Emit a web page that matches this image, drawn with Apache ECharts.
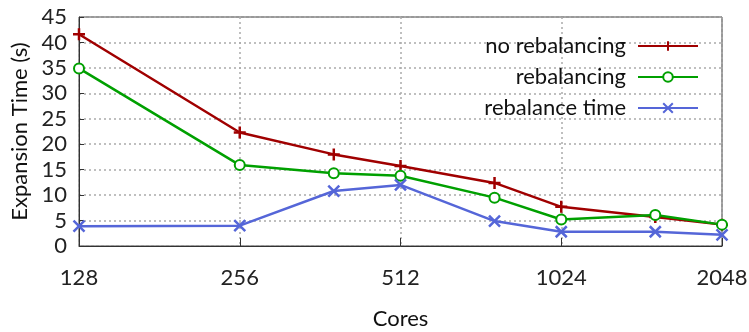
<!DOCTYPE html>
<html><head><meta charset="utf-8">
<script src="https://cdn.jsdelivr.net/npm/echarts@6/dist/echarts.min.js"></script>
<style>html,body{margin:0;padding:0;background:#fff}#c{width:749px;height:332px}</style>
</head><body><div id="c"></div>
<script>
const cores = [128, 256, 384, 512, 768, 1024, 1536, 2048];
const noRebalancing = [41.6, 22.3, 18.0, 15.7, 12.4, 7.7, 5.7, 4.2];
const rebalancing = [34.9, 15.9, 14.3, 13.8, 9.5, 5.2, 6.1, 4.2];
const rebalanceTime = [3.9, 4.0, 10.8, 12.0, 4.9, 2.8, 2.8, 2.2];
const seriesNames = ['no rebalancing', 'rebalancing', 'rebalance time'];
const yTicks = [0, 45, 5];

const font = 'Lato';
const fs = 22;
const plus = 'path://M0,6 L12,6 M6,0 L6,12';
const cross = 'path://M0,0 L12,12 M12,0 L0,12';
function pairs(v){ return cores.map((c,i)=>[c, v[i]]); }
function mk(name, data, color, symbol, size){
  return {
    name, type:'line', data: pairs(data), symbol, symbolSize: size,
    lineStyle:{color, width:2.5}, itemStyle:{color, borderColor:color, borderWidth:2.5},
    emphasis:{disabled:true}, animation:false, z: 3
  };
}
const chart = echarts.init(document.getElementById('c'), null, {renderer:'canvas'});
chart.setOption({
  animation:false,
  grid:{left:79, top:17, right:27, bottom:86, outerBoundsMode:'none', containLabel:false, show:true, borderColor:'#333', borderWidth:1, backgroundColor:'transparent'},
  legend:{
    orient:'vertical', right:45, top:30, align:'right', itemWidth:60, itemHeight:12, itemGap:9,
    textStyle:{fontFamily:font, fontSize:fs, color:'#111', padding:[0,7,0,0]},
    data: seriesNames
  },
  xAxis:{
    type:'log', logBase:2, min:128, max:2048,
    name:'Cores', nameLocation:'middle', nameGap:62,
    nameTextStyle:{fontFamily:font, fontSize:fs, color:'#111'},
    axisLine:{lineStyle:{color:'#333', width:1}},
    axisTick:{inside:true, length:8, lineStyle:{color:'#333'}},
    minorTick:{show:false},
    axisLabel:{fontFamily:font, fontSize:fs, color:'#222', margin:21, formatter:(v)=>String(Math.round(v))},
    splitLine:{show:true, lineStyle:{color:'#aaa', type:[2,3], width:1.5}}
  },
  yAxis:{
    type:'value', min:yTicks[0], max:yTicks[1], interval:yTicks[2],
    name:'Expansion Time (s)', nameLocation:'middle', nameGap:47,
    nameTextStyle:{fontFamily:font, fontSize:fs, color:'#111'},
    axisLine:{show:true, lineStyle:{color:'#333', width:1}},
    axisTick:{show:true, inside:true, length:5, lineStyle:{color:'#333'}},
    axisLabel:{fontFamily:font, fontSize:fs, color:'#222', margin:12},
    splitLine:{show:true, lineStyle:{color:'#aaa', type:[2,3], width:1.5}}
  },
  series:[
    mk(seriesNames[0], noRebalancing, '#a00000', plus, 12),
    mk(seriesNames[1], rebalancing, '#00a000', 'emptyCircle', 10),
    mk(seriesNames[2], rebalanceTime, '#5566d8', cross, 11)
  ]
});
</script></body></html>
